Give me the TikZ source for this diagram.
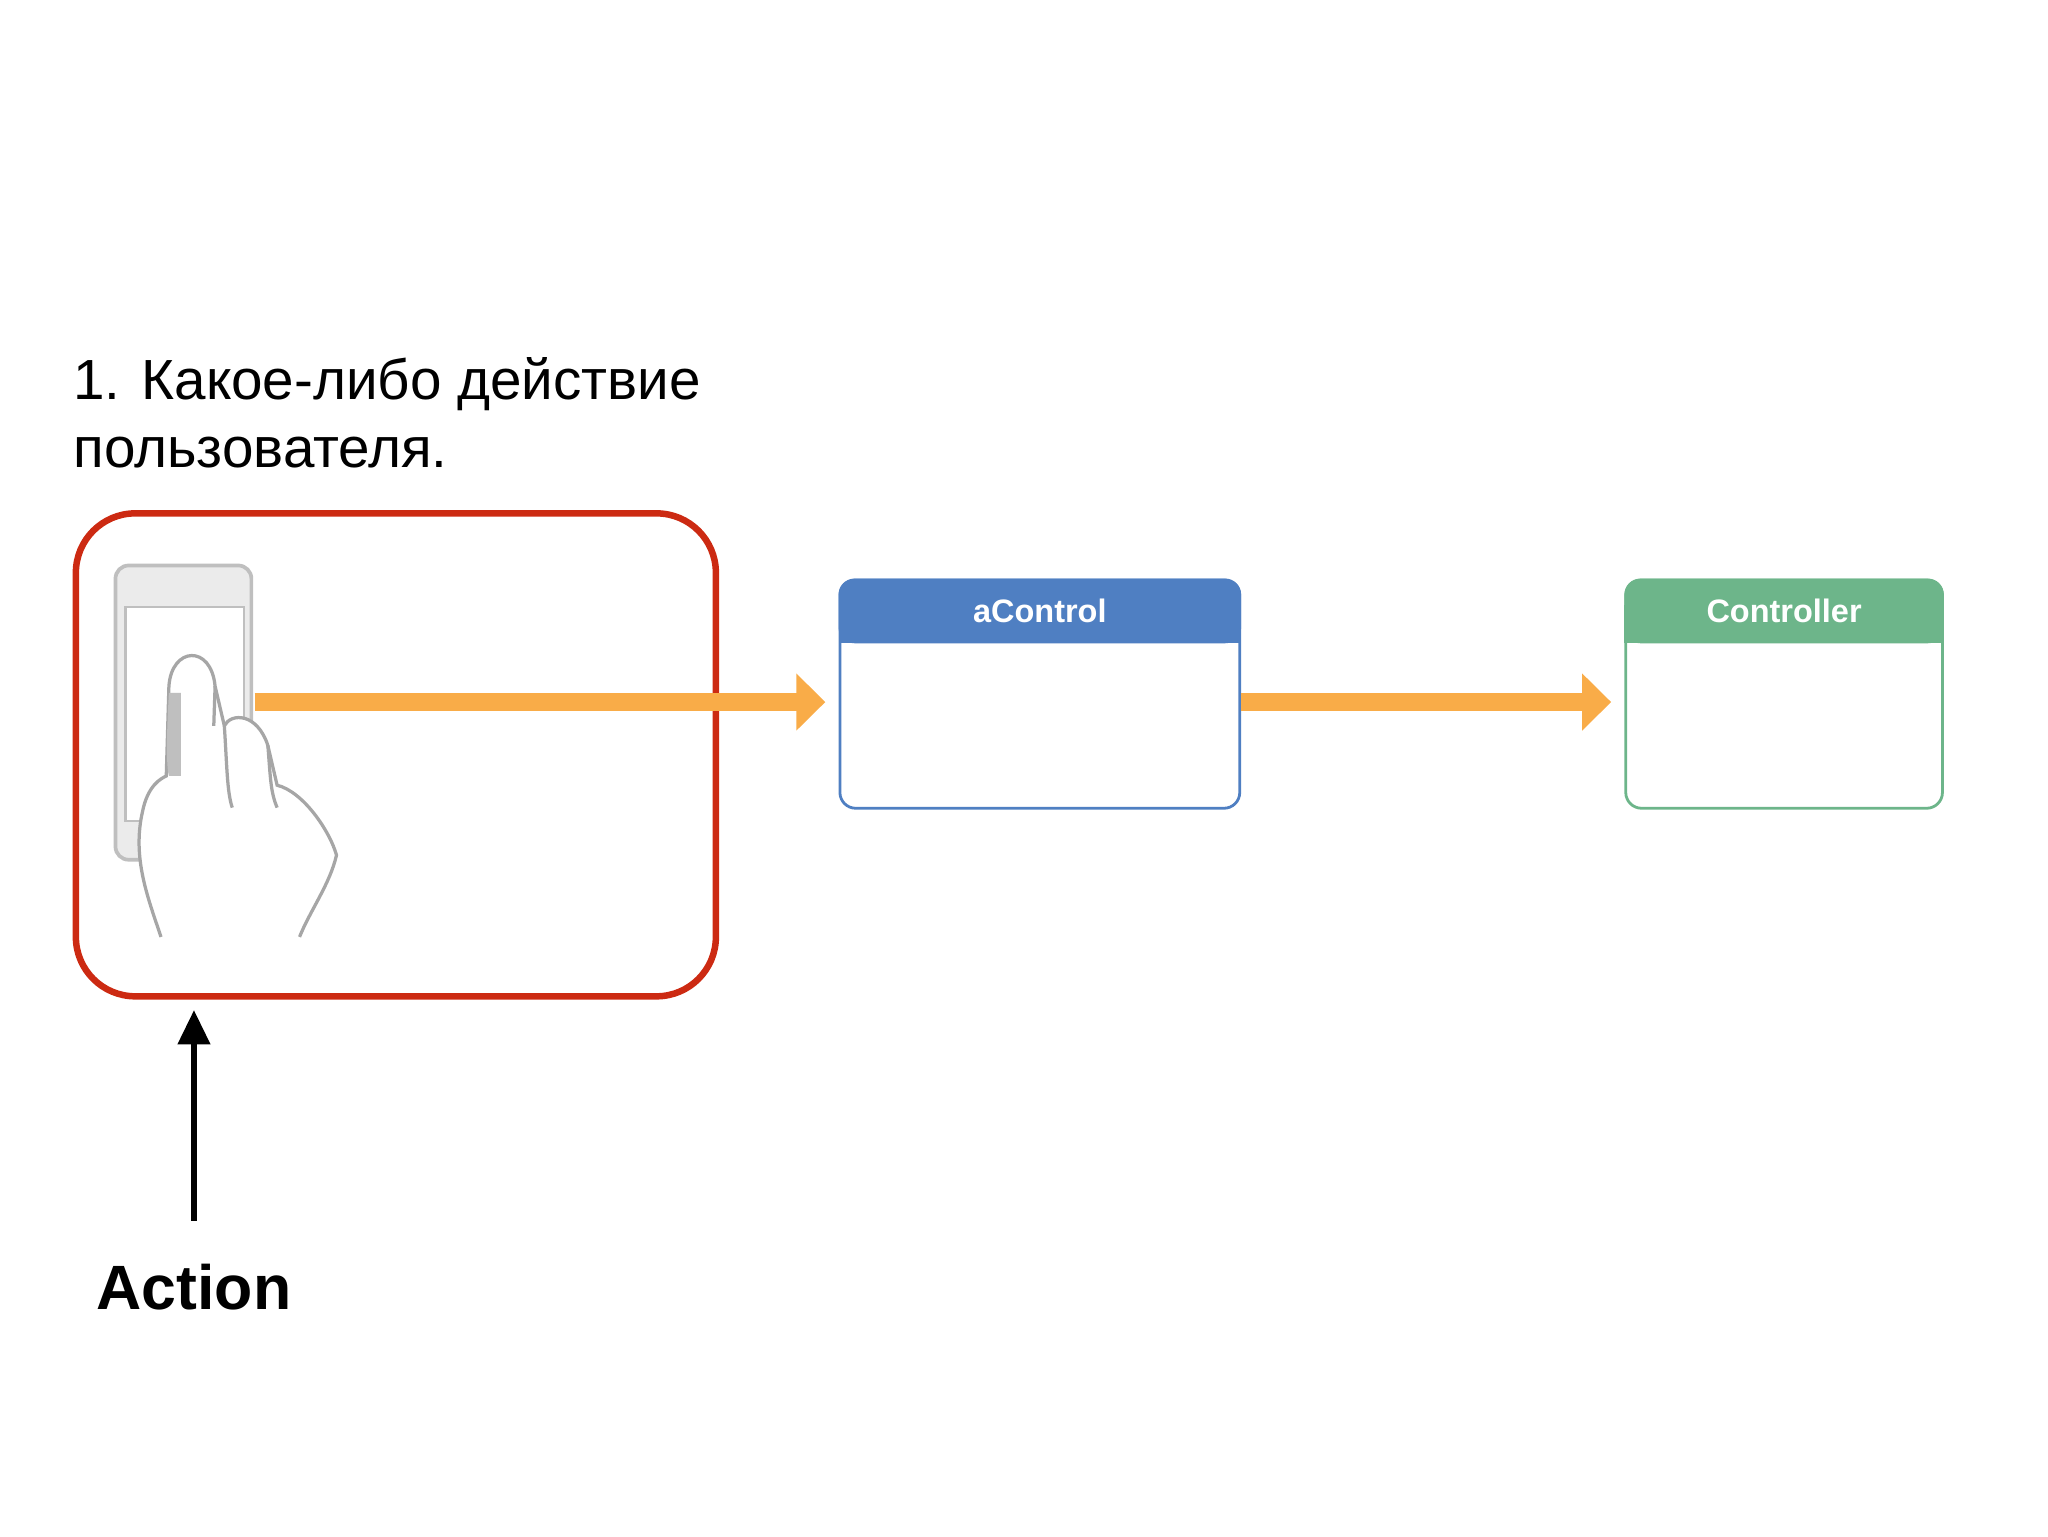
\documentclass[tikz,border=0pt]{standalone}
\usepackage{fontspec}
\setmainfont{Liberation Sans}
\usepackage{xcolor}
\usetikzlibrary{arrows.meta, positioning}
\definecolor{ctrlblue}{HTML}{4F7FC2}
\definecolor{ctrlgreen}{HTML}{6DB58A}
\definecolor{flow}{HTML}{F9AC48}
\definecolor{touch}{HTML}{CC2A12}
\begin{document}
\begin{tikzpicture}[
    x=0.1mm, y=-0.1mm,
    body/.style={rectangle, draw, line width=0.6pt, rounded corners=1.2mm, minimum height=17.3mm, fill=white},
    head/.style={font=\fontsize{7}{8}\selectfont\bfseries, text=white},
    flowarrow/.style={-{Triangle[length=2.2mm, width=4.2mm]}, line width=1.4mm, draw=flow}
]
\useasboundingbox (0,0) rectangle (1552,1164);

% Caption
\node[anchor=north west, align=left, inner sep=0pt, font=\fontsize{12.2}{14.8}\selectfont] (caption) at (55,270) {1. Какое-либо действие\\пользователя.};

% Touch area with phone and hand
\node[rectangle, draw=touch, line width=1.4pt, rounded corners=4.5mm, minimum width=48.5mm, minimum height=36.6mm] (touch) at (300,572) {};
\node[rectangle, draw=black!25, fill=black!8, line width=0.8pt, rounded corners=1mm, minimum width=10.3mm, minimum height=22.3mm] (phone) at (139,540) {};
\node[rectangle, draw=black!25, fill=white, line width=0.5pt, minimum width=9mm, minimum height=16.2mm] (screen) at (140,541) {};
\begin{scope}[draw=black!35, line width=0.7pt, fill=white]
\filldraw (122,710) .. controls (112,680) and (100,650) .. (108,615)
  .. controls (112,595) and (122,590) .. (126,588)
  -- (128,520) .. controls (130,490) and (160,488) .. (163,520)
  -- (170,550) .. controls (175,540) and (195,540) .. (203,565)
  -- (210,595) .. controls (230,600) and (250,630) .. (255,648)
  .. controls (250,670) and (235,690) .. (227,710);
\fill[black!25] (128,525) .. controls (126,560) and (126,580) .. (128,588) -- (137,588) -- (137,525) -- cycle;
\draw (170,550) .. controls (172,580) and (172,600) .. (176,612);
\draw (203,565) .. controls (205,590) and (205,600) .. (210,612);
\draw (163,520) -- (162,550);
\end{scope}

% Controls
\node[body, draw=ctrlblue, minimum width=30.3mm] (acontrol) at (788,526) {};
\fill[ctrlblue, rounded corners=1.2mm] (acontrol.north west) rectangle ([yshift=-4.9mm]acontrol.north east);
\fill[ctrlblue] ([yshift=-2mm]acontrol.north west) rectangle ([yshift=-4.9mm]acontrol.north east);
\node[head] (acontroltitle) at (788,463) {aControl};

\node[body, draw=ctrlgreen, minimum width=24mm] (controller) at (1352,526) {};
\fill[ctrlgreen, rounded corners=1.2mm] (controller.north west) rectangle ([yshift=-4.9mm]controller.north east);
\fill[ctrlgreen] ([yshift=-2mm]controller.north west) rectangle ([yshift=-4.9mm]controller.north east);
\node[head] (controllertitle) at (1352,463) {Controller};

% Arrows
\coordinate (touchpoint) at (193,532);
\draw[flowarrow] (touchpoint) -- ([xshift=-1mm]acontrol.west |- touchpoint);
\draw[flowarrow] (acontrol.east |- touchpoint) -- ([xshift=-1mm]controller.west |- touchpoint);

% Action label
\node[font=\fontsize{13.5}{16}\selectfont\bfseries] (action) at (147,975) {Action};
\draw[-{Triangle[length=2.6mm, width=2.4mm]}, line width=1.2pt] ([yshift=2mm]action.north) -- ([yshift=-0.8mm]touch.south -| action);
\end{tikzpicture}
\end{document}
